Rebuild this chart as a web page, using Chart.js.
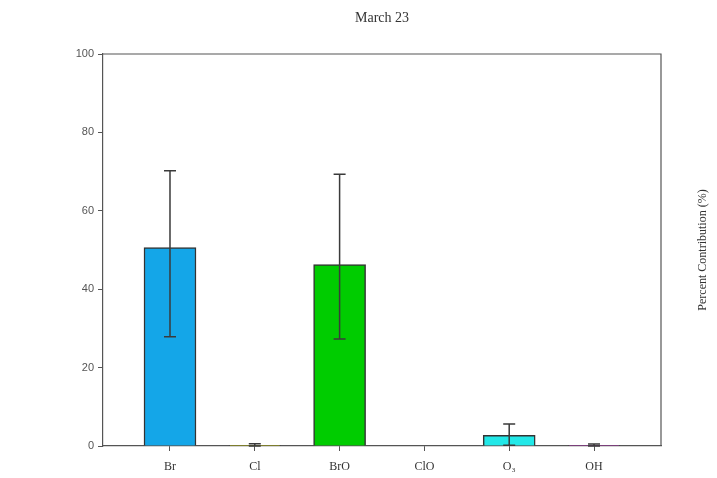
<!DOCTYPE html>
<html>
<head>
<meta charset="utf-8">
<script src="https://cdn.jsdelivr.net/npm/chart.js@4/dist/chart.umd.min.js"></script>
<style>
  html, body { margin: 0; padding: 0; background: #fff; }
  #wrap { width: 717px; height: 478px; position: relative; }
</style>
</head>
<body>
<div id="wrap"><canvas id="c" width="717" height="478"></canvas></div>
<script>
// Species and their percent contribution (mean with error range)
const species = ['Br', 'Cl', 'BrO', 'ClO', 'O\u2083', 'OH'];
const contribution = [50.6, 0.2, 46.3, 0, 2.7, 0.1];
const errLow = [27.9, 0.0, 27.3, 0, 0.2, 0.0];
const errHigh = [70.2, 0.6, 69.3, 0, 5.6, 0.5];
const barColors = ['#14a6e8', '#d4d400', '#00cc00', '#cc2222', '#22e8e8', '#cc33cc'];
const yTicks = [0, 20, 40, 60, 80, 100];
const chartTitle = 'March 23';
const yTitle = 'Percent Contribution (%)';

const points = species.map((s, i) => ({ x: i, y: contribution[i] }));

// Vertical error bars with caps, drawn over the bars
const errorBars = {
  id: 'errorBars',
  afterDatasetsDraw(chart) {
    const { ctx, scales: { x, y } } = chart;
    ctx.save();
    ctx.strokeStyle = '#3a3a3a';
    ctx.lineWidth = 1.5;
    species.forEach((s, i) => {
      if (errHigh[i] === errLow[i]) return;
      const px = x.getPixelForValue(i);
      const top = y.getPixelForValue(errHigh[i]);
      const bot = y.getPixelForValue(errLow[i]);
      ctx.beginPath();
      ctx.moveTo(px, top); ctx.lineTo(px, bot);
      ctx.moveTo(px - 6, top); ctx.lineTo(px + 6, top);
      ctx.moveTo(px - 6, bot); ctx.lineTo(px + 6, bot);
      ctx.stroke();
    });
    ctx.restore();
  }
};

// Box frame around the plot area and rotated axis title on the right
const frame = {
  id: 'frame',
  afterDraw(chart) {
    const { ctx, chartArea: a } = chart;
    ctx.save();
    ctx.strokeStyle = '#555';
    ctx.lineWidth = 1.2;
    ctx.beginPath();
    ctx.moveTo(a.left, a.top); ctx.lineTo(a.right, a.top); ctx.lineTo(a.right, a.bottom);
    ctx.stroke();
    ctx.translate(703, (a.top + a.bottom) / 2);
    ctx.rotate(-Math.PI / 2);
    ctx.fillStyle = '#333';
    ctx.font = '12px "Liberation Serif", "DejaVu Serif", serif';
    ctx.textAlign = 'center';
    ctx.textBaseline = 'middle';
    ctx.fillText(yTitle, 0, 0);
    ctx.restore();
  }
};

new Chart(document.getElementById('c'), {
  type: 'bar',
  data: {
    datasets: [{
      data: points,
      backgroundColor: barColors,
      borderColor: '#333',
      borderWidth: 1.5,
      barThickness: 52
    }]
  },
  options: {
    responsive: false,
    animation: false,
    layout: { padding: { left: 0, right: 56, top: 0, bottom: 0 } },
    plugins: {
      legend: { display: false },
      tooltip: { enabled: false },
      title: {
        display: true,
        text: chartTitle,
        fullSize: false,
        color: '#333',
        font: { family: '"Liberation Serif", "DejaVu Serif", serif', size: 14, weight: 'normal' },
        padding: { top: 10, bottom: 27.2 }
      }
    },
    scales: {
      x: {
        type: 'linear',
        min: -0.79,
        max: 5.79,
        offset: false,
        afterBuildTicks(scale) { scale.ticks = species.map((s, i) => ({ value: i })); },
        afterFit(scale) { scale.height = 32; },
        grid: { offset: false, drawOnChartArea: false, drawTicks: true, tickLength: 5, color: '#555', tickWidth: 1 },
        border: { display: true, color: '#555', width: 1.2 },
        ticks: {
          autoSkip: false,
          maxRotation: 0,
          padding: 9,
          color: '#333',
          font: { family: '"Liberation Serif", "DejaVu Serif", serif', size: 12 },
          callback: (v) => species[v]
        }
      },
      y: {
        min: 0,
        max: 100,
        afterBuildTicks(scale) { scale.ticks = yTicks.map(v => ({ value: v })); },
        afterFit(scale) { scale.width = 103; },
        grid: { drawOnChartArea: false, drawTicks: true, tickLength: 5, color: '#555', tickWidth: 1 },
        border: { display: true, color: '#555', width: 1.2 },
        ticks: {
          padding: 4,
          color: '#555',
          font: { family: '"Liberation Sans", Arial, sans-serif', size: 11 }
        }
      }
    }
  },
  plugins: [errorBars, frame]
});
</script>
</body>
</html>
